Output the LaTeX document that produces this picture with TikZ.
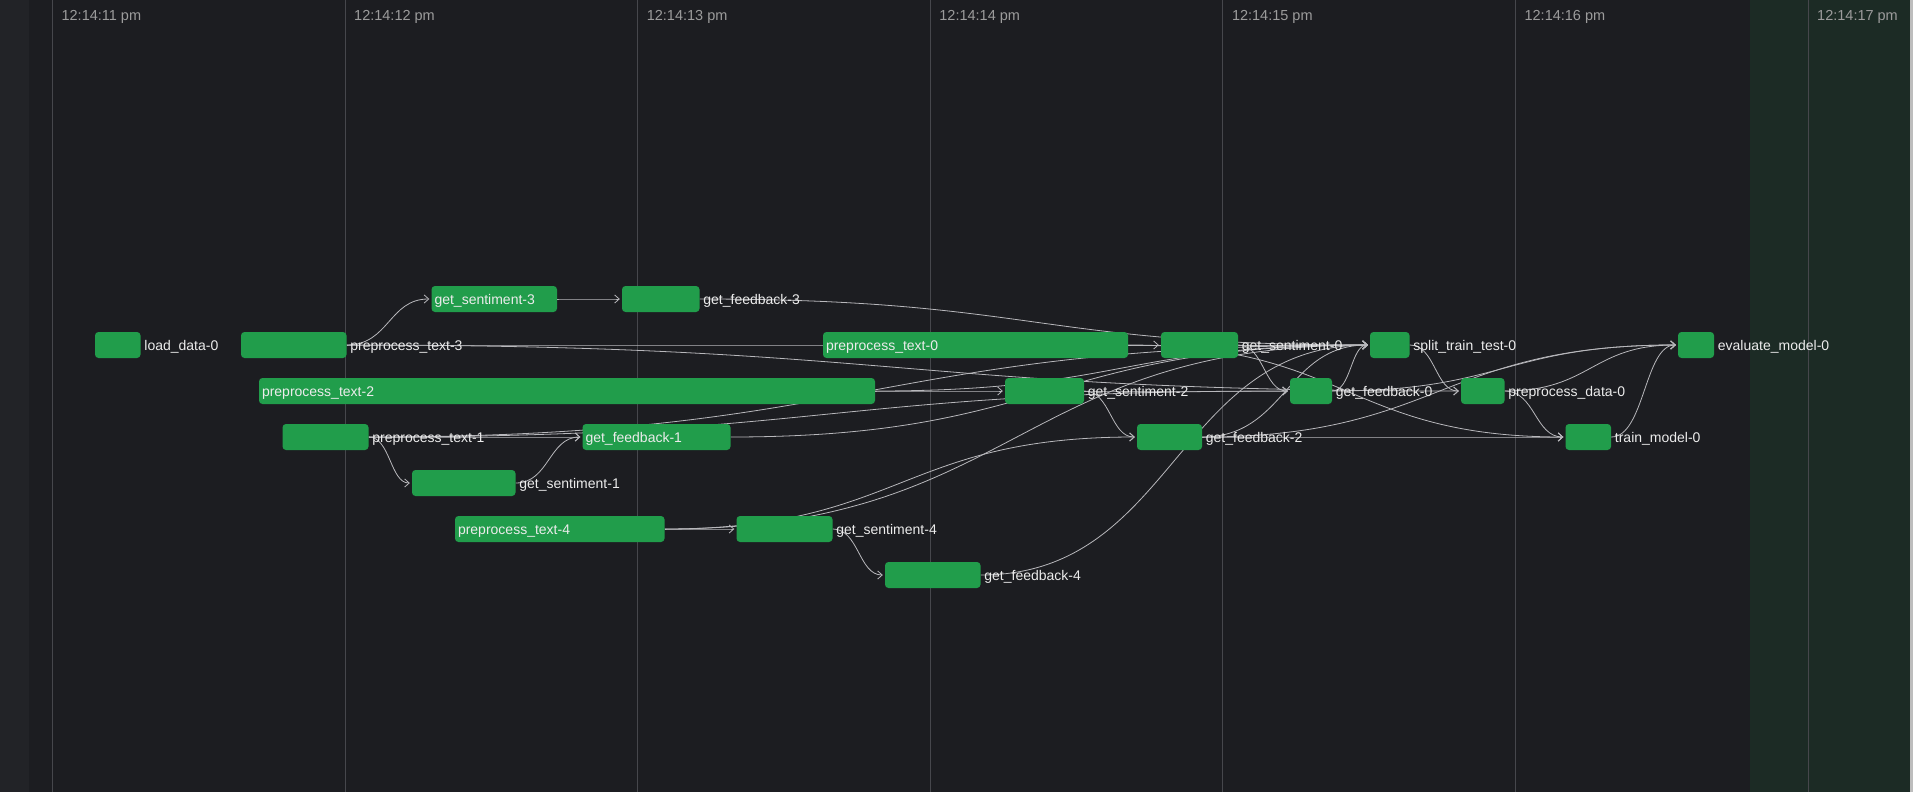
\documentclass[tikz,border=0pt]{standalone}
\usepackage{fontspec}
\setmainfont{Liberation Sans}
\usetikzlibrary{arrows.meta,calc}
\definecolor{bgc}{HTML}{1C1D21}
\definecolor{stripc}{HTML}{222327}
\definecolor{gridc}{HTML}{46474C}
\definecolor{nowc}{HTML}{1C2B25}
\definecolor{boxc}{HTML}{219D4B}
\definecolor{edgec}{HTML}{B8B8BC}
\definecolor{txtc}{HTML}{ECECEC}
\definecolor{timec}{HTML}{9C9C9C}
\definecolor{edgestrip}{HTML}{BDBDBD}
\pgfdeclarelayer{bg}
\pgfdeclarelayer{edges}
\pgfsetlayers{bg,edges,main}
\tikzset{
  runbox/.style={fill=boxc, rounded corners=3.5pt, inner sep=0pt, minimum height=26pt, draw=none},
  lbl/.style={text=txtc, font=\fontsize{14}{16}\selectfont, inner sep=0pt, anchor=base west},
  timelbl/.style={text=timec, font=\fontsize{14.5}{16}\selectfont, inner sep=0pt, anchor=base west},
  gridln/.style={draw=gridc, line width=1pt},
  dep/.style={draw=edgec, line width=0.8pt, -{Straight Barb[length=4.5pt,width=8pt]}, shorten >=2pt,
     to path={let \p1=(\tikztostart), \p2=(\tikztotarget), \n1={(\x1+\x2)/2} in .. controls (\n1,\y1) and (\n1,\y2) .. (\tikztotarget)}},
}
\begin{document}
\begin{tikzpicture}[x=1pt,y=-1pt]
\useasboundingbox (0,0) rectangle (1913,792);
\begin{pgfonlayer}{bg}
  \fill[bgc] (0,0) rectangle (1913,792);
  \fill[stripc] (0,0) rectangle (29,792);
  \fill[nowc] (1750,0) rectangle (1910,792);
  \fill[edgestrip] (1910,0) rectangle (1913,792);
  \foreach \gx in {52.4,345,637.6,930.2,1222.8,1515.4,1808} {
    \draw[gridln] (\gx,0) -- (\gx,792);
  }
\end{pgfonlayer}
% time axis labels
\node[timelbl] (t11) at (61.4,20.8) {12:14:11 pm};
\node[timelbl] (t12) at (354,20.8) {12:14:12 pm};
\node[timelbl] (t13) at (646.6,20.8) {12:14:13 pm};
\node[timelbl] (t14) at (939.2,20.8) {12:14:14 pm};
\node[timelbl] (t15) at (1231.8,20.8) {12:14:15 pm};
\node[timelbl] (t16) at (1524.4,20.8) {12:14:16 pm};
\node[timelbl] (t17) at (1817,20.8) {12:14:17 pm};

% task run boxes
\node[runbox, minimum width=45.5pt]  (ld)  at (117.75,345) {};
\node[runbox, minimum width=105.5pt] (pt3) at (293.75,345) {};
\node[runbox, minimum width=125.5pt] (gs3) at (494.25,299) {};
\node[runbox, minimum width=77.5pt]  (gf3) at (660.75,299) {};
\node[runbox, minimum width=305pt]   (pt0) at (975.5,345) {};
\node[runbox, minimum width=77pt]    (gs0) at (1199.5,345) {};
\node[runbox, minimum width=39.5pt]  (stt) at (1389.75,345) {};
\node[runbox, minimum width=36pt]    (ev)  at (1696,345) {};
\node[runbox, minimum width=616pt]   (pt2) at (567,391) {};
\node[runbox, minimum width=79pt]    (gs2) at (1044.5,391) {};
\node[runbox, minimum width=42pt]    (gf0) at (1311,391) {};
\node[runbox, minimum width=43.5pt]  (pd)  at (1482.75,391) {};
\node[runbox, minimum width=86pt]    (pt1) at (325.5,437) {};
\node[runbox, minimum width=148pt]   (gf1) at (656.5,437) {};
\node[runbox, minimum width=65pt]    (gf2) at (1169.5,437) {};
\node[runbox, minimum width=45.5pt]  (tm)  at (1588.25,437) {};
\node[runbox, minimum width=103.5pt] (gs1) at (463.75,483) {};
\node[runbox, minimum width=209.5pt] (pt4) at (559.75,529) {};
\node[runbox, minimum width=96pt]    (gs4) at (784.5,529) {};
\node[runbox, minimum width=95.5pt]  (gf4) at (932.75,575) {};

% labels (inside)
\node[lbl] (gs3l) at ([xshift=3pt,yshift=-5pt]gs3.west) {get\_sentiment-3};
\node[lbl] (pt0l) at ([xshift=3pt,yshift=-5pt]pt0.west) {preprocess\_text-0};
\node[lbl] (pt2l) at ([xshift=3pt,yshift=-5pt]pt2.west) {preprocess\_text-2};
\node[lbl] (gf1l) at ([xshift=3pt,yshift=-5pt]gf1.west) {get\_feedback-1};
\node[lbl] (pt4l) at ([xshift=3pt,yshift=-5pt]pt4.west) {preprocess\_text-4};
% labels (outside)
\node[lbl] (ldl)  at ([xshift=3.5pt,yshift=-5pt]ld.east)  {load\_data-0};
\node[lbl] (pt3l) at ([xshift=3.5pt,yshift=-5pt]pt3.east) {preprocess\_text-3};
\node[lbl] (gf3l) at ([xshift=3.5pt,yshift=-5pt]gf3.east) {get\_feedback-3};
\node[lbl] (gs0l) at ([xshift=3.5pt,yshift=-5pt]gs0.east) {get\_sentiment-0};
\node[lbl] (sttl) at ([xshift=3.5pt,yshift=-5pt]stt.east) {split\_train\_test-0};
\node[lbl] (evl)  at ([xshift=3.5pt,yshift=-5pt]ev.east)  {evaluate\_model-0};
\node[lbl] (gs2l) at ([xshift=3.5pt,yshift=-5pt]gs2.east) {get\_sentiment-2};
\node[lbl] (gf0l) at ([xshift=3.5pt,yshift=-5pt]gf0.east) {get\_feedback-0};
\node[lbl] (pdl)  at ([xshift=3.5pt,yshift=-5pt]pd.east)  {preprocess\_data-0};
\node[lbl] (pt1l) at ([xshift=3.5pt,yshift=-5pt]pt1.east) {preprocess\_text-1};
\node[lbl] (gf2l) at ([xshift=3.5pt,yshift=-5pt]gf2.east) {get\_feedback-2};
\node[lbl] (tml)  at ([xshift=3.5pt,yshift=-5pt]tm.east)  {train\_model-0};
\node[lbl] (gs1l) at ([xshift=3.5pt,yshift=-5pt]gs1.east) {get\_sentiment-1};
\node[lbl] (gs4l) at ([xshift=3.5pt,yshift=-5pt]gs4.east) {get\_sentiment-4};
\node[lbl] (gf4l) at ([xshift=3.5pt,yshift=-5pt]gf4.east) {get\_feedback-4};

% dependency edges
\begin{pgfonlayer}{edges}
  \draw[dep] (pt3.east) to (gs3.west);
  \draw[dep] (gs3.east) to (gf3.west);
  \draw[dep] (pt1.east) to (gs1.west);
  \draw[dep] (gs1.east) to (gf1.west);
  \draw[dep] (pt1.east) to (gf1.west);
  \draw[dep] (pt4.east) to (gs4.west);
  \draw[dep] (gs4.east) to (gf4.west);
  \draw[dep] (pt0.east) to (gs0.west);
  \draw[dep] (gs0.east) to (gf0.west);
  \draw[dep] (pt2.east) to (gs2.west);
  \draw[dep] (gs2.east) to (gf2.west);
  \draw[dep] (pt4.east) to (gf2.west);
  \draw[dep] (gf3.east) to (stt.west);
  \draw[dep] (gf4.east) to (stt.west);
  \draw[dep] (gf0.east) to (stt.west);
  \draw[dep] (gf1.east) to (stt.west);
  \draw[dep] (gf2.east) to (stt.west);
  \draw[dep] (pt3.east) to (stt.west);
  \draw[dep] (pt1.east) to (stt.west);
  \draw[dep] (pt4.east) to (stt.west);
  \draw[dep] (pt2.east) to (stt.west);
  \draw[dep] (pt0.east) to (stt.west);
  \draw[dep] (stt.east) to (pd.west);
  \draw[dep] (pd.east) to (tm.west);
  \draw[dep] (tm.east) to (ev.west);
  \draw[dep] (pd.east) to (ev.west);
  \draw[dep] (gf2.east) to (tm.west);
  \draw[dep] (pt0.east) to (tm.west);
  \draw[dep] (gf2.east) to (ev.west);
  \draw[dep] (gf0.east) to (ev.west);
  \draw[dep] (pt3.east) to (pd.west);
  \draw[dep] (gs2.east) to (gf0.west);
  \draw[dep] (pt1.east) to (gf0.west);
\end{pgfonlayer}
\end{tikzpicture}
\end{document}
